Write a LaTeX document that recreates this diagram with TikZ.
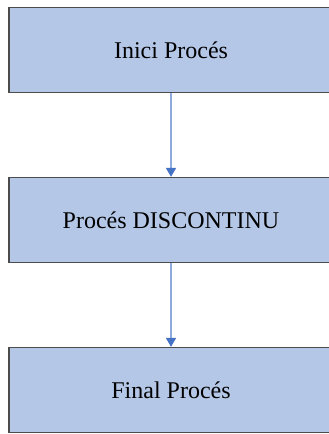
\documentclass[tikz,border=0pt]{standalone}
\usepackage{fontspec}
\setmainfont{Liberation Serif}
\usetikzlibrary{arrows.meta}
\definecolor{boxfill}{HTML}{B4C7E7}
\definecolor{linkline}{HTML}{8FAADC}
\definecolor{linkhead}{HTML}{4472C4}
\tikzstyle{stage}=[
    draw=black!70,line width=1.3pt,fill=boxfill,
    minimum width=324pt,minimum height=85pt,
    anchor=center,inner sep=0pt,
    font=\fontsize{24}{28}\selectfont
    ]
\tikzstyle{link}=[
    draw=linkline,line width=1.6pt,
    -{Triangle[width=10pt,length=9pt,fill=linkhead,color=linkhead]}
    ]

\begin{document}
\begin{tikzpicture}[
x=1pt,y=1pt
]
\useasboundingbox (0,0) rectangle (329,434);
\clip (0,0) rectangle (329,434);
%stages
\node[stage] (inici) at (171,384) {Inici Procés};
\node[stage] (discontinu) at (171,214) {Procés DISCONTINU};
\node[stage] (final) at (171,44) {Final Procés};
%links
\draw[link] (inici) -- (discontinu);
\draw[link] (discontinu) -- (final);
\end{tikzpicture}
\end{document}
